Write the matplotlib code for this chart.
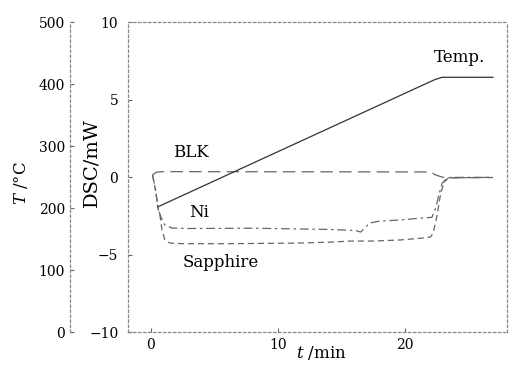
import matplotlib.pyplot as plt
from matplotlib.ticker import MultipleLocator

plt.rcParams['font.family'] = ['DejaVu Serif']
plt.rcParams['mathtext.fontset'] = 'dejavuserif'

# heating program (right-hand temperature scale)
t_temp = [0.55, 22.3, 22.9, 26.9]
temp = [202, 407, 411, 411]

# DSC traces, mW
t_blk = [0.13, 0.3, 0.5, 1.0, 22.0, 22.4, 23.0, 23.3, 26.9]
dsc_blk = [0.13, 0.25, 0.32, 0.35, 0.33, 0.13, -0.02, -0.05, -0.03]

t_ni = [0.13, 0.4, 0.55, 0.8, 1.1, 1.65, 3, 8, 14, 16.1, 16.5, 17.2, 18.0,
        19.6, 21.2, 22.1, 22.4, 22.6, 22.9, 23.3, 23.6, 26.9]
dsc_ni = [0.13, -1.0, -2.0, -2.6, -3.1, -3.29, -3.32, -3.3, -3.38, -3.45,
          -3.55, -2.97, -2.84, -2.77, -2.65, -2.6, -2.0, -1.3, -0.4, -0.06,
          -0.02, -0.02]

t_sap = [0.13, 0.4, 0.55, 0.71, 0.87, 1.1, 1.5, 2.5, 6, 11.7, 14.1, 15.7,
         17.5, 19.6, 21.2, 22.0, 22.2, 22.5, 22.8, 23.1, 23.4, 26.9]
dsc_sap = [0.13, -1.0, -2.0, -2.45, -3.4, -4.06, -4.26, -4.3, -4.3, -4.26,
           -4.2, -4.13, -4.13, -4.06, -3.95, -3.87, -3.6, -2.5, -1.0, -0.3,
           -0.05, -0.02]

fig = plt.figure(figsize=(5.1, 3.65), dpi=100)
ax = fig.add_axes([0.251, 0.0904, 0.743, 0.849])
ax2 = ax.twinx()

ax.plot(t_blk, dsc_blk, color='#666666', lw=0.9, dashes=(10, 5))
ax.plot(t_ni, dsc_ni, color='#666666', lw=0.9, dashes=(7, 3, 2, 3))
ax.plot(t_sap, dsc_sap, color='#666666', lw=0.9, dashes=(5, 3))
ax2.plot(t_temp, temp, color='#333333', lw=0.9)

ax.set_xlim(-1.8, 28.0)
ax.set_ylim(-10, 10)
ax2.set_ylim(0, 500)
ax.xaxis.set_major_locator(MultipleLocator(10))
ax.yaxis.set_major_locator(MultipleLocator(5))
ax2.yaxis.set_major_locator(MultipleLocator(100))

# temperature scale sits on the far left
ax2.yaxis.tick_left()
ax2.yaxis.set_label_position('left')
ax2.spines['left'].set_visible(True)
ax2.spines['left'].set_position(('outward', 42))
for s in ['right', 'top', 'bottom']:
    ax2.spines[s].set_visible(False)

for a in (ax, ax2):
    for s in a.spines.values():
        s.set_linestyle((0, (2, 2)))
        s.set_color('#888888')
        s.set_linewidth(0.9)

ax.tick_params(direction='in', length=3, labelsize=10, color='#666666')
ax.tick_params(axis='y', pad=7)
ax.tick_params(axis='x', pad=4)
ax2.tick_params(direction='in', length=3, labelsize=10, pad=3.5, color='#666666')

ax.set_xlabel(r'$t$ /min', fontsize=12)
ax.xaxis.label.set_va('center')
ax.xaxis.set_label_coords(0.51, -0.068)
ax.set_ylabel('DSC/mW', fontsize=14)
ax.yaxis.set_label_coords(-0.072, 0.548)
ax2.set_ylabel(r'$T$ /°C', fontsize=12)
ax2.yaxis.set_label_coords(-0.258, 0.48)

ax.text(24.3, 7.7, 'Temp.', fontsize=12, ha='center', va='center')
ax.text(3.15, 1.6, 'BLK', fontsize=12, ha='center', va='center')
ax.text(3.8, -2.26, 'Ni', fontsize=12, ha='center', va='center')
ax.text(5.5, -5.5, 'Sapphire', fontsize=12, ha='center', va='center')

fig.savefig('out.png', dpi=100)
